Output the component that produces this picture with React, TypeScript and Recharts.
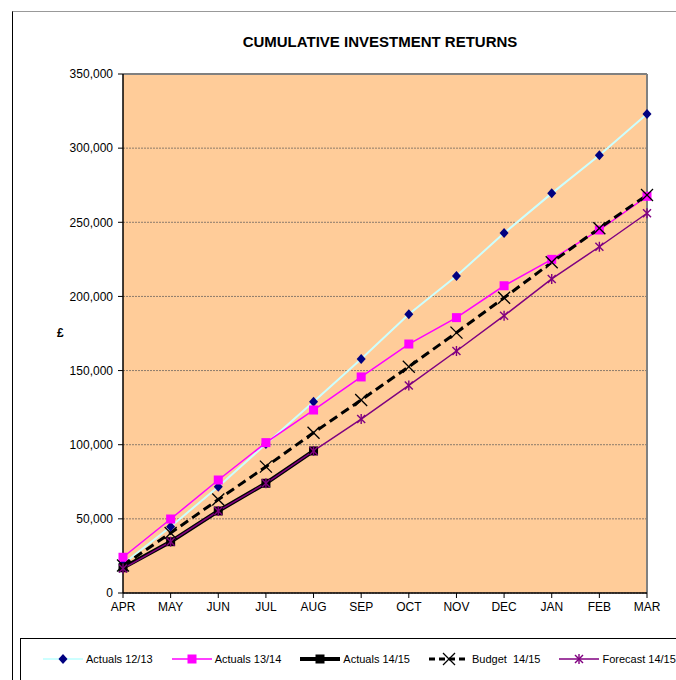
import React from 'react';
import { LineChart, Line, XAxis, YAxis, CartesianGrid, ReferenceLine } from 'recharts';

const months = ['APR', 'MAY', 'JUN', 'JUL', 'AUG', 'SEP', 'OCT', 'NOV', 'DEC', 'JAN', 'FEB', 'MAR'];
const actuals1213 = [19500, 44700, 71700, 100500, 129000, 157800, 188000, 213800, 242700, 269500, 295200, 323000];
const actuals1314 = [24100, 49900, 76200, 101400, 123400, 145700, 167900, 185700, 207200, 225000, 244800, 267500];
const actuals1415 = [17000, 34600, 55300, 74000, 95800, null, null, null, null, null, null, null];
const budget1415 = [18500, 40500, 63000, 85200, 108100, 130200, 152600, 175600, 199100, 223000, 246000, 268400];
const forecast1415 = [16500, 34600, 55300, 74000, 95800, 117300, 140000, 163200, 187000, 211800, 233500, 256100];
const yTicks = [0, 50000, 100000, 150000, 200000, 250000, 300000, 350000];

const data = months.map((month, i) => ({
  month,
  a1213: actuals1213[i],
  a1314: actuals1314[i],
  a1415: actuals1415[i],
  budget: budget1415[i],
  forecast: forecast1415[i],
}));

const FONT = '"Liberation Sans", Arial, sans-serif';

type MarkProps = { cx: number; cy: number };

const Diamond = ({ cx, cy }: MarkProps) => (
  <polygon points={`${cx},${cy - 5} ${cx + 4.5},${cy} ${cx},${cy + 5} ${cx - 4.5},${cy}`} fill="#000080" />
);
const PinkSquare = ({ cx, cy }: MarkProps) => (
  <rect x={cx - 4.5} y={cy - 4.5} width={9} height={9} fill="#FF00FF" />
);
const BlackSquare = ({ cx, cy }: MarkProps) => (
  <rect x={cx - 4.5} y={cy - 4.5} width={9} height={9} fill="#000000" />
);
const Cross = ({ cx, cy }: MarkProps) => (
  <g stroke="#000000" strokeWidth={1.3}>
    <line x1={cx - 6} y1={cy - 6} x2={cx + 6} y2={cy + 6} />
    <line x1={cx - 6} y1={cy + 6} x2={cx + 6} y2={cy - 6} />
  </g>
);
const Star = ({ cx, cy }: MarkProps) => (
  <g stroke="#800080" strokeWidth={1.4}>
    <line x1={cx - 4} y1={cy - 4} x2={cx + 4} y2={cy + 4} />
    <line x1={cx - 4} y1={cy + 4} x2={cx + 4} y2={cy - 4} />
    <line x1={cx} y1={cy - 5} x2={cx} y2={cy + 5} />
  </g>
);

const series = [
  { key: 'a1213', name: 'Actuals 12/13', stroke: '#CCFFFF', width: 2, dash: undefined, Marker: Diamond },
  { key: 'a1314', name: 'Actuals 13/14', stroke: '#FF00FF', width: 1.5, dash: undefined, Marker: PinkSquare },
  { key: 'a1415', name: 'Actuals 14/15', stroke: '#000000', width: 4, dash: undefined, Marker: BlackSquare },
  { key: 'budget', name: 'Budget  14/15', stroke: '#000000', width: 3, dash: '9 5', Marker: Cross },
  { key: 'forecast', name: 'Forecast 14/15', stroke: '#800080', width: 1.5, dash: undefined, Marker: Star },
];

function LegendBox() {
  return (
    <div
      style={{
        position: 'absolute',
        left: 20,
        top: 638,
        width: 700,
        height: 60,
        border: '1px solid #000',
        boxSizing: 'border-box',
      }}
    >
      <div style={{ display: 'flex', alignItems: 'center', gap: 19, paddingLeft: 22, marginTop: 13 }}>
        {series.map((s) => (
          <div key={s.key} style={{ display: 'flex', alignItems: 'center' }}>
            <svg width={40} height={14}>
              <line
                x1={0}
                y1={7}
                x2={40}
                y2={7}
                stroke={s.stroke}
                strokeWidth={s.width}
                strokeDasharray={s.dash ? '6 4' : undefined}
              />
              <s.Marker cx={20} cy={7} />
            </svg>
            <span style={{ fontFamily: FONT, fontSize: 11, marginLeft: 3, whiteSpace: 'pre' }}>{s.name}</span>
          </div>
        ))}
      </div>
    </div>
  );
}

export default function App() {
  return (
    <div style={{ position: 'absolute', left: 0, top: 0, width: 676, height: 680, overflow: 'hidden', background: '#fff' }}>
      <div
        style={{
          position: 'absolute',
          left: 12,
          top: 11,
          width: 700,
          height: 700,
          borderLeft: '1.5px solid #000',
          borderTop: '1px solid #999',
        }}
      />
      <div
        style={{
          position: 'absolute',
          left: 180,
          top: 33,
          width: 400,
          textAlign: 'center',
          fontFamily: FONT,
          fontWeight: 'bold',
          fontSize: 15,
          lineHeight: '18px',
        }}
      >
        CUMULATIVE INVESTMENT RETURNS
      </div>
      <div
        style={{
          position: 'absolute',
          left: 57,
          top: 326,
          fontFamily: FONT,
          fontWeight: 'bold',
          fontSize: 12,
        }}
      >
        £
      </div>
      <div style={{ position: 'absolute', left: 0, top: 0 }}>
        <LineChart width={676} height={638} data={data} margin={{ top: 74, right: 29, bottom: 15, left: 63 }}>
          <CartesianGrid vertical={false} fill="#FFCC99" stroke="#8c7b6b" strokeDasharray="2 1" />
          <XAxis
            dataKey="month"
            padding={{ left: 0, right: 0 }}
            height={30}
            interval={0}
            axisLine={{ stroke: '#000', strokeWidth: 1.5 }}
            tickLine={{ stroke: '#000' }}
            tickSize={5}
            tickMargin={4}
            tick={{ fill: '#000', fontSize: 12, fontFamily: FONT }}
          />
          <YAxis
            domain={[0, 350000]}
            ticks={yTicks}
            width={60}
            interval={0}
            axisLine={{ stroke: '#000', strokeWidth: 1.5 }}
            tickLine={{ stroke: '#000' }}
            tickSize={5}
            tickMargin={5}
            tick={{ fill: '#000', fontSize: 12, fontFamily: FONT }}
            tickFormatter={(v: number) => v.toLocaleString('en-GB')}
          />
          <ReferenceLine y={350000} stroke="#808080" strokeWidth={2} />
          <ReferenceLine x="MAR" stroke="#808080" strokeWidth={2} />
          {series.map((s) => (
            <Line
              key={s.key}
              dataKey={s.key}
              name={s.name}
              stroke={s.stroke}
              strokeWidth={s.width}
              strokeDasharray={s.dash}
              isAnimationActive={false}
              activeDot={false}
              dot={(p: any) =>
                p.cx == null || p.cy == null || p.value == null ? (
                  <g key={`${s.key}-${p.index}`} />
                ) : (
                  <s.Marker key={`${s.key}-${p.index}`} cx={p.cx} cy={p.cy} />
                )
              }
            />
          ))}
        </LineChart>
      </div>
      <LegendBox />
    </div>
  );
}
